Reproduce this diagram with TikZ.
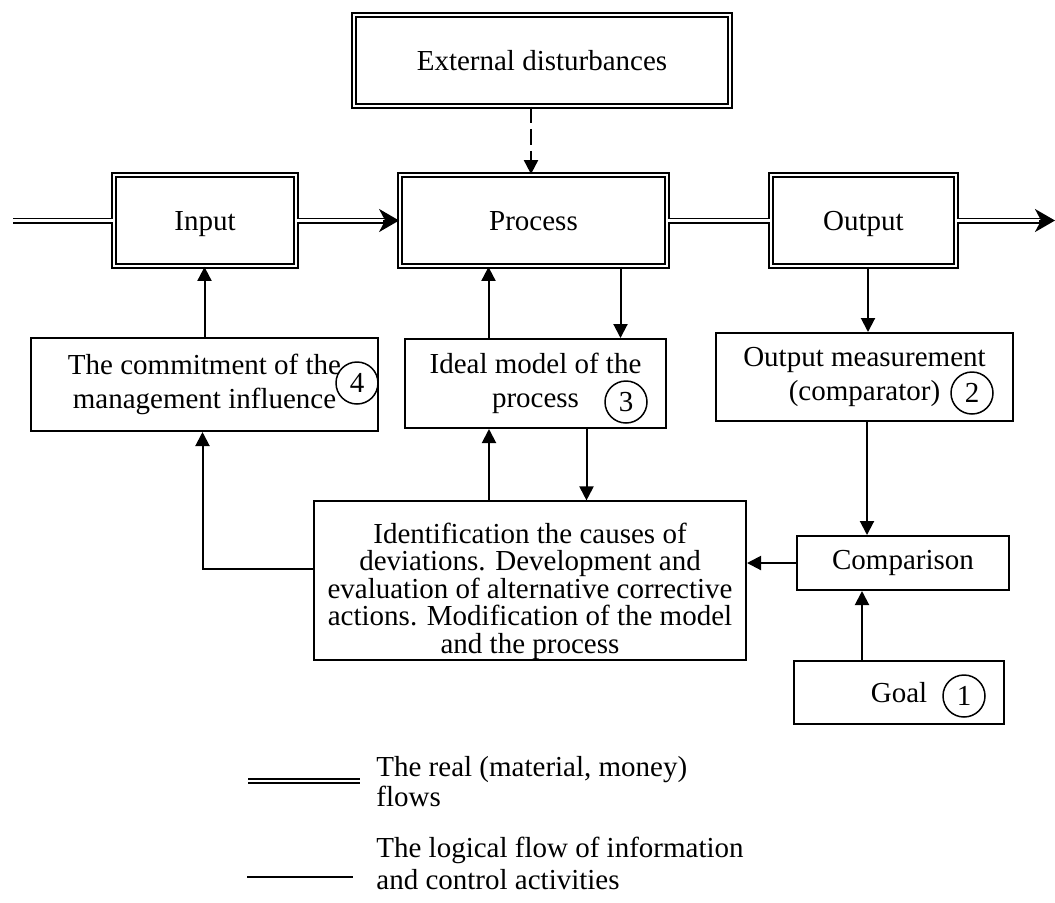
\documentclass[tikz,border=0pt]{standalone}
\usepackage{fontspec}
\setmainfont{Liberation Serif}
\usetikzlibrary{arrows.meta}

\begin{document}
\begin{tikzpicture}[x=0.5pt,y=-0.5pt,
  font=\fontsize{14.5}{17.25}\selectfont,
  dblbox/.style={draw, double, line width=1.1pt, double distance=1pt, align=center, inner sep=0pt,
    text height=1.15em, text depth=0.15em},
  box/.style={draw, line width=1pt, align=center, inner sep=0pt},
  num/.style={draw, circle, line width=0.75pt, minimum size=21pt, inner sep=0pt},
  link/.style={line width=1pt, -{Triangle[length=7pt,width=7pt]}},
  flow/.style={double, line width=0.9pt, double distance=1.2pt},
  flowtip/.style={line width=1pt, -{Stealth[length=10pt,width=11.5pt,inset=3pt]}}]
  \useasboundingbox (0,0) rectangle (1055,902);

  % Main flow boxes
  \node[dblbox, minimum width=187.8pt, minimum height=45.3pt] (ext) at (542,60.5) {External disturbances};
  \node[dblbox, minimum width=90.8pt, minimum height=45.3pt] (input) at (205,220.5) {Input};
  \node[dblbox, minimum width=133.3pt, minimum height=45.3pt] (process) at (533.5,220.5) {Process};
  \node[dblbox, minimum width=92.3pt, minimum height=45.3pt] (output) at (863.5,220.5) {Output};

  % Control boxes
  \node[box, minimum width=173.5pt, minimum height=46.5pt] (commit) at (204.5,384.5) {The commitment of the\\management influence};
  \node[box, minimum width=130.5pt, minimum height=44.5pt] (ideal) at (535.5,383.5) {Ideal model of the\\process};
  \node[box, minimum width=148.5pt, minimum height=44pt] (meas) at (864.5,377) {Output measurement\\(comparator)};
  \node[box, minimum width=216pt, minimum height=78.5pt, font=\fontsize{14.5}{13.75}\selectfont,
    text height=76pt] (ident) at (530,580.5)
    {Identification the causes of\\deviations. Development and\\evaluation of alternative corrective\\actions. Modification of the model\\and the process};
  \node[box, minimum width=106pt, minimum height=27pt] (comp) at (903,563) {Comparison};
  \node[box, minimum width=105pt, minimum height=31.5pt] (goal) at (899,692.5) {Goal};

  % Numbers
  \node[num] (n1) at (964,696) {1};
  \node[num] (n2) at (972,393) {2};
  \node[num] (n3) at (626,402) {3};
  \node[num] (n4) at (357,383) {4};

  % Real flows
  \coordinate (start) at (13,220.5);
  \coordinate (finish) at (1055,220.5);
  \draw[flow] (start) -- (input.west);
  \draw[flow] (input.east) -- ([xshift=-7pt]process.west);
  \draw[flowtip] ([xshift=-8pt]process.west) -- (process.west);
  \draw[flow] (process.east) -- (output.west);
  \draw[flow] (output.east) -- ([xshift=-7pt]finish);
  \draw[flowtip] ([xshift=-8pt]finish) -- (finish);

  % Disturbances
  \draw[link, dash pattern=on 8pt off 3pt] ([xshift=-1.25pt]process.north |- ext.south) -- ([xshift=-1.25pt]process.north);

  % Information flows
  \draw[link] (commit.north) -- (commit.north |- input.south);
  \draw[link] ([xshift=-23.5pt]ideal.north) -- ([xshift=-23.5pt]ideal.north |- process.south);
  \draw[link] ([xshift=43.5pt]process.south) -- ([xshift=43.5pt]process.south |- ideal.north);
  \draw[link] ([xshift=2.25pt]output.south) -- ([xshift=2.25pt]output.south |- meas.north);
  \draw[link] ([xshift=1.25pt]meas.south) -- ([xshift=1.25pt]meas.south |- comp.north);
  \draw[link] ([xshift=-18.5pt]goal.north) -- ([xshift=-18.5pt]goal.north |- comp.south);
  \draw[link] (comp.west) -- (comp.west -| ident.east);
  \draw[link] ([xshift=-20.5pt]ident.north) -- ([xshift=-20.5pt]ident.north |- ideal.south);
  \draw[link] ([xshift=25.5pt]ideal.south) -- ([xshift=25.5pt]ideal.south |- ident.north);
  \coordinate (corner) at (202.5,569);
  \draw[link] (corner -| ident.west) -- (corner) -- (corner |- commit.south);

  % Legend
  \coordinate (real a) at (248,781);
  \coordinate (real b) at (360,781);
  \draw[double, line width=1.1pt, double distance=0.8pt] (real a) -- (real b);
  \node[anchor=west, align=left, inner sep=0pt, font=\fontsize{14.5}{15}\selectfont] (realtxt) at (376,782)
    {The real (material, money)\\flows};
  \coordinate (log a) at (247,877);
  \coordinate (log b) at (353,877);
  \draw[line width=1pt] (log a) -- (log b);
  \node[anchor=west, align=left, inner sep=0pt, font=\fontsize{14.5}{16}\selectfont] (logtxt) at (376,863)
    {The logical flow of information\\and control activities};

\end{tikzpicture}
\end{document}
